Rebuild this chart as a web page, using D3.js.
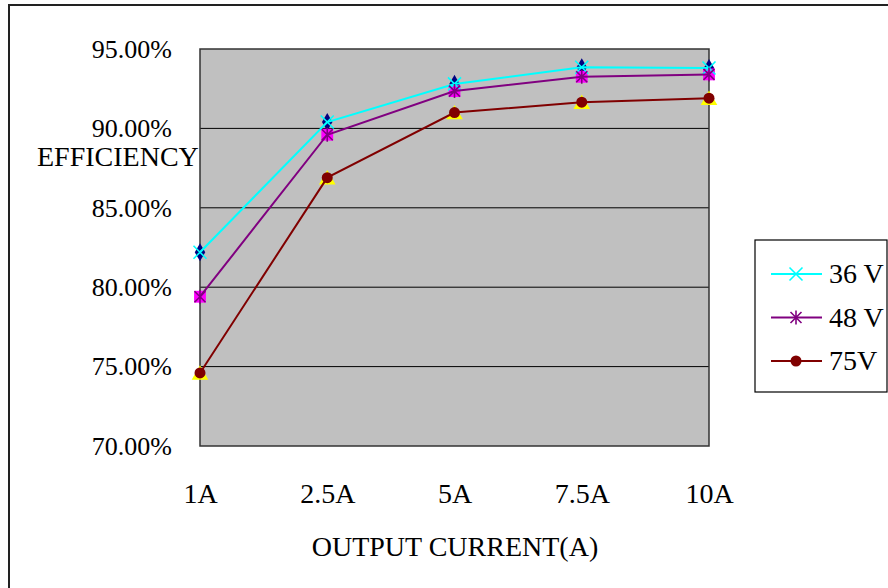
<!DOCTYPE html>
<html>
<head>
<meta charset="utf-8">
<script src="https://cdn.jsdelivr.net/npm/d3@7"></script>
<style>
  body { margin: 0; background: #fff; }
  svg text { font-family: "Liberation Serif", "Times New Roman", Tinos, "DejaVu Serif", serif !important; fill: #000; }
</style>
</head>
<body>
<svg id="chart" width="888" height="588"></svg>
<script>
// chart data
var categories = ["1A", "2.5A", "5A", "7.5A", "10A"];
var seriesNames = ["36 V", "48 V", "75V"];
var v36 = [82.2, 90.4, 92.8, 93.85, 93.8];
var v48 = [79.4, 89.6, 92.35, 93.25, 93.4];
var v75 = [74.6, 86.9, 91.0, 91.65, 91.9];
var yTicks = [70, 75, 80, 85, 90, 95];

(function () {
    var svg = d3.select("#chart"),
        margin = { top: 49, left: 200 },
        width = 509,
        height = 397,
        g = svg.append("g").attr("transform", "translate(" + margin.left + "," + margin.top + ")");

    // outer frame
    svg.append("rect")
        .attr("x", 9).attr("y", 5)
        .attr("width", 900).attr("height", 600)
        .attr("fill", "none").attr("stroke", "#222").attr("stroke-width", 2);

    var x = d3.scalePoint().domain(categories).range([0, width]).padding(0),
        y = d3.scaleLinear().domain([70, 95]).range([height, 0]);

    // plot background
    g.append("rect")
        .attr("width", width).attr("height", height)
        .attr("fill", "#c0c0c0");

    // grid lines
    g.selectAll(".grid")
        .data(yTicks.slice(1, -1))
        .enter().append("line")
        .attr("class", "grid")
        .attr("x1", 0).attr("x2", width)
        .attr("y1", function (d) { return y(d); })
        .attr("y2", function (d) { return y(d); })
        .attr("stroke", "#000").attr("stroke-width", 1);

    g.append("rect")
        .attr("width", width).attr("height", height)
        .attr("fill", "none").attr("stroke", "#333").attr("stroke-width", 1.5);

    // y axis labels
    var yAxis = d3.axisLeft(y).tickValues(yTicks).tickSize(0).tickPadding(28)
        .tickFormat(function (d) { return d.toFixed(2) + "%"; });
    g.append("g").call(yAxis)
        .attr("font-family", null).attr("font-size", null)
        .call(function (a) { a.select(".domain").remove(); })
        .selectAll("text")
        .style("font-size", "26px");

    // x axis labels
    var xAxis = d3.axisBottom(x).tickSize(0).tickPadding(37);
    g.append("g").attr("transform", "translate(0," + height + ")").call(xAxis)
        .attr("font-family", null).attr("font-size", null)
        .call(function (a) { a.select(".domain").remove(); })
        .selectAll("text")
        .style("font-size", "28px");

    svg.append("text")
        .attr("x", 37).attr("y", 166)
        .style("font-size", "28px")
        .text("EFFICIENCY");

    svg.append("text")
        .attr("x", 455).attr("y", 556)
        .attr("text-anchor", "middle")
        .style("font-size", "28px")
        .text("OUTPUT CURRENT(A)");

    var line = d3.line()
        .x(function (d, i) { return x(categories[i]); })
        .y(function (d) { return y(d); });

    // hidden series markers (drawn under)
    function under(vals, type, color, size, dy) {
        g.selectAll(null).data(vals).enter().append("path")
            .attr("d", d3.symbol().type(type).size(size))
            .attr("transform", function (d, i) { return "translate(" + x(categories[i]) + "," + (y(d) + dy) + ")"; })
            .attr("fill", color);
    }
    under(v36, d3.symbolDiamond, "#000080", 95, 0);
    under(v48, d3.symbolSquare, "#ff00ff", 140, 0);
    under(v75, d3.symbolTriangle, "#ffff00", 120, 2);

    var series = [
        { name: seriesNames[0], values: v36, color: "#00ffff", marker: "x" },
        { name: seriesNames[1], values: v48, color: "#800080", marker: "star" },
        { name: seriesNames[2], values: v75, color: "#800000", marker: "dot" }
    ];

    function drawMarker(sel, s) {
        if (s.marker === "x") {
            sel.append("path").attr("d", "M-6.5,-6.5L6.5,6.5M-6.5,6.5L6.5,-6.5")
                .attr("stroke", s.color).attr("stroke-width", 1.6).attr("fill", "none");
        } else if (s.marker === "star") {
            sel.append("path").attr("d", "M-5.5,-5.5L5.5,5.5M-5.5,5.5L5.5,-5.5M0,-7L0,7")
                .attr("stroke", s.color).attr("stroke-width", 1.6).attr("fill", "none");
        } else {
            sel.append("circle").attr("r", 5.5).attr("fill", s.color);
        }
    }

    series.forEach(function (s) {
        g.append("path")
            .datum(s.values)
            .attr("d", line)
            .attr("fill", "none")
            .attr("stroke", s.color)
            .attr("stroke-width", 2);
        s.values.forEach(function (d, i) {
            var m = g.append("g").attr("transform", "translate(" + x(categories[i]) + "," + y(d) + ")");
            drawMarker(m, s);
        });
    });

    // legend
    svg.append("rect")
        .attr("x", 755).attr("y", 240).attr("width", 132).attr("height", 152)
        .attr("fill", "#fff").attr("stroke", "#000").attr("stroke-width", 1.2);

    var legend = svg.selectAll(".legend")
        .data(series)
        .enter().append("g")
        .attr("class", "legend")
        .attr("transform", function (d, i) { return "translate(771," + (274 + i * 43.5) + ")"; });

    legend.append("line")
        .attr("x1", 0).attr("x2", 51)
        .attr("stroke", function (d) { return d.color; })
        .attr("stroke-width", 2);
    legend.each(function (d) {
        var m = d3.select(this).append("g").attr("transform", "translate(25,0)");
        drawMarker(m, d);
    });
    legend.append("text")
        .attr("x", 58).attr("y", 9)
        .style("font-size", "28px")
        .text(function (d) { return d.name; });
})();
</script>
</body>
</html>
